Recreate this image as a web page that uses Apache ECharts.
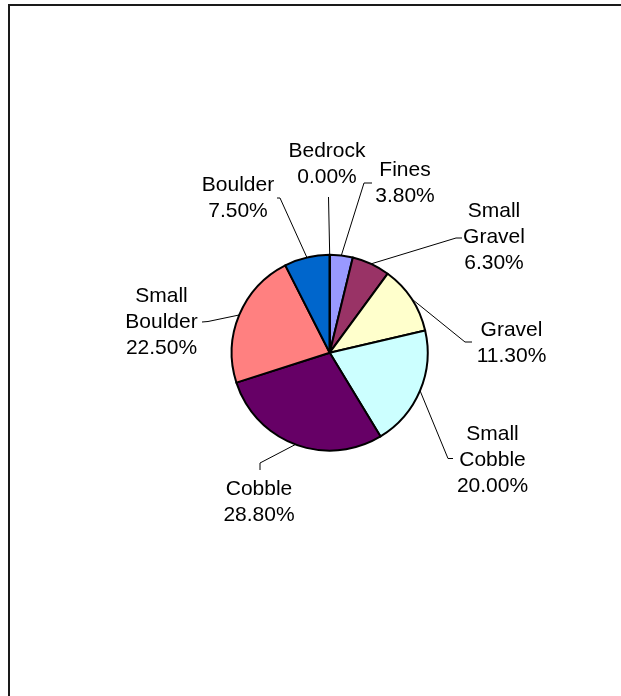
<!DOCTYPE html>
<html>
<head>
<meta charset="utf-8">
<script src="https://cdn.jsdelivr.net/npm/echarts@6/dist/echarts.min.js"></script>
<style>
  html, body { margin: 0; padding: 0; background: #fff; }
  #chart { width: 621px; height: 696px; }
</style>
</head>
<body>
<div id="chart"></div>
<script>
// ---- data ----
const categories = ['Fines', 'Small Gravel', 'Gravel', 'Small Cobble', 'Cobble', 'Small Boulder', 'Boulder', 'Bedrock'];
const values = [3.8, 6.3, 11.3, 20.0, 28.8, 22.5, 7.5, 0.0];
const colors = ['#9999FF', '#993366', '#FFFFCC', '#CCFFFF', '#660066', '#FF8080', '#0066CC', '#CCCCFF'];

// ---- label placement (layout only) ----
const labelCenters = [[405, 183], [494, 237.5], [511.5, 343], [492.5, 460], [259, 502], [161.5, 322], [238, 198], [327, 164]];
const leaderBends = [[364, 183], [456, 238], [465, 342], [448, 458.5], [260, 463], [208, 321.5], [280, 198], null];
const leaderEnds = [[372, 183], [462, 238], [472, 342], [453, 458.5], [260, 470], [202, 322], [277, 198], [328.5, 197]];

const CX = 329.7, CY = 352.7, R = 98;

const chart = echarts.init(document.getElementById('chart'), null, { renderer: 'canvas' });
const total = values.reduce((a, b) => a + b, 0);

chart.setOption({
  backgroundColor: '#fff',
  animation: false,
  color: colors,
  graphic: [{
    type: 'rect',
    shape: { x: 9, y: 5, width: 800, height: 900 },
    style: { fill: 'none', stroke: '#1a1a1a', lineWidth: 2 },
    silent: true
  }],
  series: [{
    type: 'pie',
    center: [CX, CY],
    radius: R,
    startAngle: 90,
    clockwise: true,
    avoidLabelOverlap: false,
    minShowLabelAngle: 0,
    emphasis: { disabled: true },
    itemStyle: { borderColor: '#000', borderWidth: 2 },
    label: {
      show: true,
      position: 'outside',
      fontFamily: '"Liberation Sans", Arial, sans-serif',
      fontSize: 21,
      lineHeight: 26,
      color: '#000',
      align: 'center',
      formatter: p => p.name.replace(' ', '\n') + '\n' + p.value.toFixed(2) + '%'
    },
    labelLine: {
      show: true,
      length: 10,
      length2: 5,
      smooth: false,
      lineStyle: { color: '#000', width: 1 }
    },
    labelLayout: function (params) {
      const i = params.dataIndex;
      let start;
      if (params.labelLinePoints && params.labelLinePoints.length) {
        start = params.labelLinePoints[0];
      } else {
        let acc = 0;
        for (let k = 0; k < i; k++) acc += values[k];
        const mid = (acc + values[i] / 2) / total * Math.PI * 2;
        start = [CX + R * Math.sin(mid), CY - R * Math.cos(mid)];
      }
      const pts = [start];
      if (leaderBends[i]) pts.push(leaderBends[i]);
      pts.push(leaderEnds[i]);
      return {
        x: labelCenters[i][0],
        y: labelCenters[i][1],
        align: 'center',
        verticalAlign: 'middle',
        labelLinePoints: pts
      };
    },
    data: categories.map((c, i) => ({ name: c, value: values[i] }))
  }]
});
</script>
</body>
</html>
